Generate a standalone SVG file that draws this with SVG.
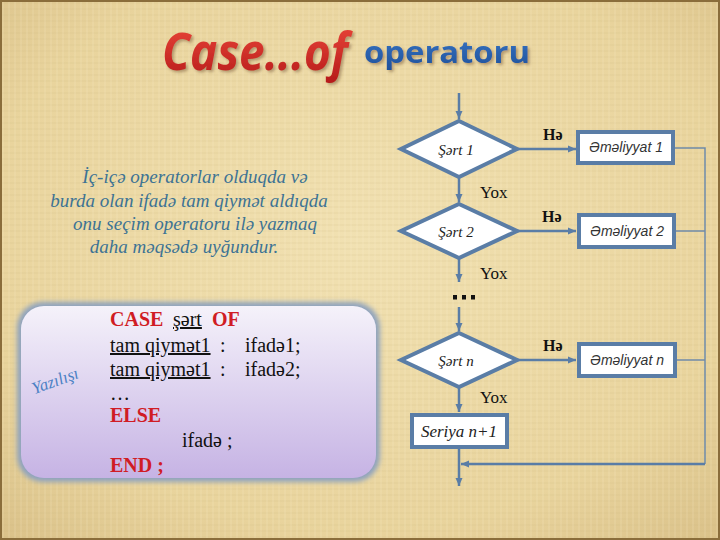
<svg xmlns="http://www.w3.org/2000/svg" width="720" height="540" viewBox="0 0 720 540">
<defs>
<radialGradient id="bg" cx="50%" cy="45%" r="75%">
<stop offset="0" stop-color="#f1e1b2"/>
<stop offset="0.7" stop-color="#e9d49d"/>
<stop offset="1" stop-color="#d9c088"/>
</radialGradient>
<pattern id="tex" width="6" height="6" patternUnits="userSpaceOnUse">
<path d="M0 3H6" stroke="#c9b27a" stroke-width="0.6" opacity="0.35"/>
<path d="M3 0V6" stroke="#fff6d8" stroke-width="0.6" opacity="0.35"/>
</pattern>
<linearGradient id="redg" x1="0" y1="0" x2="0" y2="1">
<stop offset="0" stop-color="#f04a3c"/>
<stop offset="1" stop-color="#b41a1a"/>
</linearGradient>
<linearGradient id="blueg" x1="0" y1="0" x2="0" y2="1">
<stop offset="0" stop-color="#3a78c8"/>
<stop offset="1" stop-color="#1d4f98"/>
</linearGradient>
<linearGradient id="lav" x1="0" y1="0" x2="0" y2="1">
<stop offset="0" stop-color="#f5f2fa"/>
<stop offset="0.5" stop-color="#ddd2ef"/>
<stop offset="1" stop-color="#c6b3e4"/>
</linearGradient>
<filter id="glow" x="-10%" y="-10%" width="120%" height="120%">
<feGaussianBlur stdDeviation="2.5"/>
</filter>
<filter id="shadow" x="-10%" y="-20%" width="120%" height="150%">
<feDropShadow dx="2" dy="2" stdDeviation="1.5" flood-color="#6b4a2a" flood-opacity="0.45"/>
</filter>
<marker id="arr" markerWidth="10" markerHeight="10" refX="9" refY="5" orient="auto" markerUnits="userSpaceOnUse">
<path d="M1 1.5L9 5L1 8.5Z" fill="#5a7da6"/>
</marker>
<style>
.dia{fill:#ffffff;stroke:#5a7da6;stroke-width:4;stroke-linejoin:miter}
.box{fill:#ffffff;stroke:#5a7da6;stroke-width:4}
.ln{fill:none;stroke:#5a7da6;stroke-width:2.5}
.thin{fill:none;stroke:#6f8aa8;stroke-width:1.5}
.cond{font-family:"Liberation Serif",serif;font-style:italic;font-size:15px;fill:#222}
.act{font-family:"Liberation Sans",sans-serif;font-style:italic;font-size:14px;fill:#333}
.ser{font-family:"Liberation Serif",serif;font-style:italic;font-size:17px;fill:#222}
.he{font-family:"Liberation Serif",serif;font-weight:bold;font-size:16px;fill:#111}
.yox{font-family:"Liberation Serif",serif;font-size:17px;fill:#111}
.para{font-family:"Liberation Serif",serif;font-style:italic;font-size:19px;fill:#3d7394;text-anchor:middle}
.code{font-family:"Liberation Serif",serif;font-size:20px;fill:#111}
.kw{font-weight:bold;fill:#d01c24}
</style>
</defs>
<rect width="720" height="540" fill="url(#bg)"/>
<rect width="720" height="540" fill="url(#tex)"/>
<rect x="1" y="1" width="718" height="538" fill="none" stroke="#8a6d3b" stroke-width="2"/>

<g id="title" filter="url(#shadow)">
<text x="162" y="70" font-family="'Open Sans','Liberation Sans',sans-serif" font-weight="bold" font-style="italic" font-size="52" fill="url(#redg)" textLength="186" lengthAdjust="spacingAndGlyphs">Case...of</text>
<text x="364" y="63" font-family="'Open Sans','Liberation Sans',sans-serif" font-weight="bold" font-size="30" fill="url(#blueg)" textLength="166" lengthAdjust="spacingAndGlyphs">operatoru</text>
</g>

<g id="description">
<text class="para" x="195" y="183">İç-içə operatorlar olduqda və</text>
<text class="para" x="189" y="207">burda olan ifadə tam qiymət aldıqda</text>
<text class="para" x="195" y="230">onu seçim operatoru ilə yazmaq</text>
<text class="para" x="184" y="253">daha məqsədə uyğundur.</text>
</g>

<g id="syntax-box">
<rect x="17" y="302" width="363" height="180" rx="26" fill="#8fa3bd" filter="url(#glow)"/>
<rect x="21" y="306" width="355" height="172" rx="23" fill="url(#lav)"/>
<text x="57" y="386" transform="rotate(-20 57 386)" font-family="'Liberation Serif',serif" font-style="italic" font-size="17" fill="#4a80c4" text-anchor="middle">Yazılışı</text>
<text class="code kw" x="110" y="326">CASE</text>
<text class="code" x="173" y="326" text-decoration="underline">şərt </text>
<text class="code kw" x="212" y="326">OF</text>
<text class="code" x="110" y="352" text-decoration="underline">tam qiymət1</text>
<text class="code" x="220" y="352">:</text>
<text class="code" x="245" y="352">ifadə1;</text>
<text class="code" x="110" y="376" text-decoration="underline">tam qiymət1</text>
<text class="code" x="220" y="376">:</text>
<text class="code" x="245" y="376">ifadə2;</text>
<text class="code" x="110" y="400">…</text>
<text class="code kw" x="110" y="422">ELSE</text>
<text class="code" x="182" y="447">ifadə ;</text>
<text class="code kw" x="110" y="472">END ;</text>
</g>

<g id="connectors">
<path class="ln" d="M459 93V119" marker-end="url(#arr)"/>
<path class="ln" d="M517 149H576" marker-end="url(#arr)"/>
<path class="ln" d="M459 177V202" marker-end="url(#arr)"/>
<path class="ln" d="M517 231H576" marker-end="url(#arr)"/>
<path class="ln" d="M459 258V282" marker-end="url(#arr)"/>
<path class="ln" d="M459 307V331" marker-end="url(#arr)"/>
<path class="ln" d="M517 360H576" marker-end="url(#arr)"/>
<path class="ln" d="M459 387V412" marker-end="url(#arr)"/>
<path class="ln" d="M459 447V486" marker-end="url(#arr)"/>
<path class="thin" d="M675 148H705V464"/>
<path class="thin" d="M676 231H705"/>
<path class="thin" d="M677 360H705"/>
<path class="ln" d="M705 464H461" marker-end="url(#arr)"/>
<text class="he" x="543" y="140">Hə</text>
<text class="he" x="542" y="222">Hə</text>
<text class="he" x="543" y="351">Hə</text>
<text class="yox" x="480" y="198">Yox</text>
<text class="yox" x="480" y="279">Yox</text>
<text class="yox" x="480" y="403">Yox</text>
<g fill="#111"><rect x="453" y="295" width="4" height="4.5"/><rect x="462" y="295" width="4" height="4.5"/><rect x="471" y="295" width="4" height="4.5"/></g>
</g>

<g id="cond1">
<path class="dia" d="M459 121L517 149L459 177L401 149Z"/>
<text class="cond" x="456" y="155" text-anchor="middle">Şərt 1</text>
</g>
<g id="act1">
<rect class="box" x="578" y="132" width="95" height="31"/>
<text class="act" x="626" y="152" text-anchor="middle">Əməliyyat 1</text>
</g>
<g id="cond2">
<path class="dia" d="M459 204L517 231L459 258L401 231Z"/>
<text class="cond" x="456" y="237" text-anchor="middle">Şərt 2</text>
</g>
<g id="act2">
<rect class="box" x="579" y="215" width="95" height="32"/>
<text class="act" x="627" y="236" text-anchor="middle">Əməliyyat 2</text>
</g>
<g id="condn">
<path class="dia" d="M459 333L517 360L459 387L401 360Z"/>
<text class="cond" x="456" y="366" text-anchor="middle">Şərt n</text>
</g>
<g id="actn">
<rect class="box" x="579" y="344" width="96" height="32"/>
<text class="act" x="627" y="365" text-anchor="middle">Əməliyyat n</text>
</g>
<g id="seriya">
<rect class="box" x="412" y="415" width="95" height="32"/>
<text class="ser" x="459" y="437" text-anchor="middle">Seriya n+1</text>
</g>
</svg>
